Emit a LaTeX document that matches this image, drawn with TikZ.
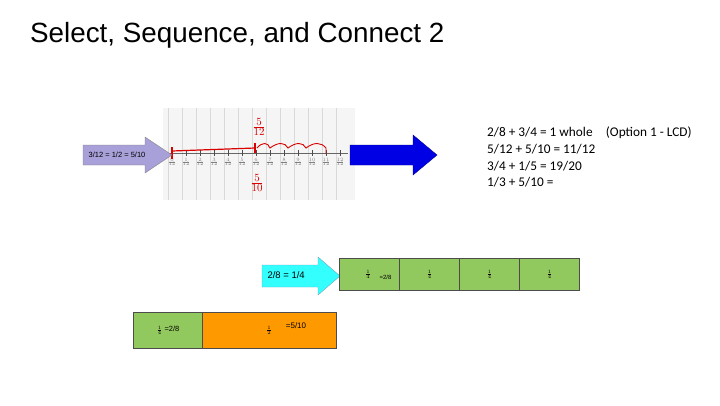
\documentclass[tikz,border=0pt]{standalone}
\usepackage{fontspec}
\setmainfont{Liberation Sans}
\newfontfamily\carlitofont{Carlito}
\definecolor{cgreen}{HTML}{92C95E}
\definecolor{corange}{HTML}{FF9900}
\definecolor{cpurple}{HTML}{A8A0D8}
\definecolor{ccyan}{HTML}{33FFFF}
\begin{document}
\begin{tikzpicture}[x=1pt,y=-1pt,
  cell/.style={draw=black!70,line width=1pt,fill=cgreen,minimum height=32pt,inner sep=0pt},
  fr/.style={font=\fontsize{6}{7}\selectfont},
  red/.style={draw=red!85!black,line width=1.2pt}]
\useasboundingbox (0,0) rectangle (720,405);
\node[anchor=west,font=\fontsize{27.8}{30}\selectfont,inner sep=0pt] (title) at (30,35) {Select, Sequence, and Connect 2};
% number line picture
\node[fill=gray!8,draw=none,minimum width=192pt,minimum height=92pt,anchor=north west] (img) at (163,108) {};
\foreach \x in {0,...,12} {\draw[gray!30] (168+14*\x,108) -- (168+14*\x,200);}
\draw[black!60] (168,153) -- (348,153);
\foreach \i in {0,...,12} {\draw[black!70] (172+14*\i,150) -- (172+14*\i,156);
  \node[fr,font=\fontsize{3}{4}\selectfont,gray] (t\i) at (172+14*\i,162) {$\frac{\i}{12}$};}
\draw[red] (172,147) -- (172,159);
\draw[red] (172,151) -- (255,148);
\draw[red] (255,143) -- (255,153);
\draw[red,line width=0.9pt] (257,148) .. controls (262,142) and (268,142) .. (270,148)
  .. controls (278,142) and (285,142) .. (288,148) .. controls (296,142) and (303,142) .. (306,148)
  .. controls (314,142) and (321,142) .. (326,148) -- (326,154);
\node[text=red!85!black,font=\fontsize{15}{16}\selectfont] (r1) at (259,127) {$\frac{5}{12}$};
\node[text=red!85!black,font=\fontsize{15}{16}\selectfont] (r2) at (257,183) {$\frac{5}{10}$};
% purple arrow
\draw[fill=cpurple,draw=gray] (83,145) -- (145,145) -- (145,137) -- (172,155) -- (145,173) -- (145,165) -- (83,165) -- cycle;
\node[font=\fontsize{7.5}{8}\selectfont] (pa) at (117,155) {3/12 = 1/2 = 5/10};
% blue arrow
\draw[fill=blue!90!black,draw=blue!60!black] (350,145) -- (413,145) -- (413,135) -- (437,155) -- (413,175) -- (413,165) -- (350,165) -- cycle;
% text block
\foreach \t [count=\i] in {{2/8 + 3/4 = 1 whole\quad (Option 1 - LCD)},{5/12 + 5/10 = 11/12},{3/4 + 1/5 = 19/20},{1/3 + 5/10 =}}
  \node[anchor=west,inner sep=0pt,font=\carlitofont\fontsize{13.3}{14}\selectfont] (l\i) at (487,116.5+16.5*\i) {\t};
% cyan arrow
\draw[fill=ccyan,draw=cyan!60!black!70] (262,265) -- (318,265) -- (318,257) -- (340,276) -- (318,295) -- (318,287) -- (262,287) -- cycle;
\node[anchor=west,font=\fontsize{9.5}{10}\selectfont] (ca) at (264,275) {2/8 = 1/4};
% green bar
\foreach \x [count=\i] in {339,399,459,519}
  \node[cell,minimum width=60pt,anchor=north west] (g\i) at (\x,258) {};
\node[fr] at (368,274) {$\frac14$};
\node[fr,anchor=west] at (376,277) {=2/8};
\foreach \i in {2,3,4} \node[fr] at (g\i) {$\frac14$};
% bottom bars
\node[cell,minimum width=69pt,minimum height=36pt,anchor=north west] (b1) at (133,312) {};
\node[draw=black!70,line width=1pt,fill=corange,minimum width=134pt,minimum height=36pt,inner sep=0pt,anchor=north west] (b2) at (202,312) {};
\node[fr,font=\fontsize{7.5}{8}\selectfont] at (168,330) {$\frac14$ =2/8};
\node[fr] at (269,330) {$\frac12$};
\node[fr,font=\fontsize{8}{8}\selectfont] at (296,326) {=5/10};
\end{tikzpicture}
\end{document}
